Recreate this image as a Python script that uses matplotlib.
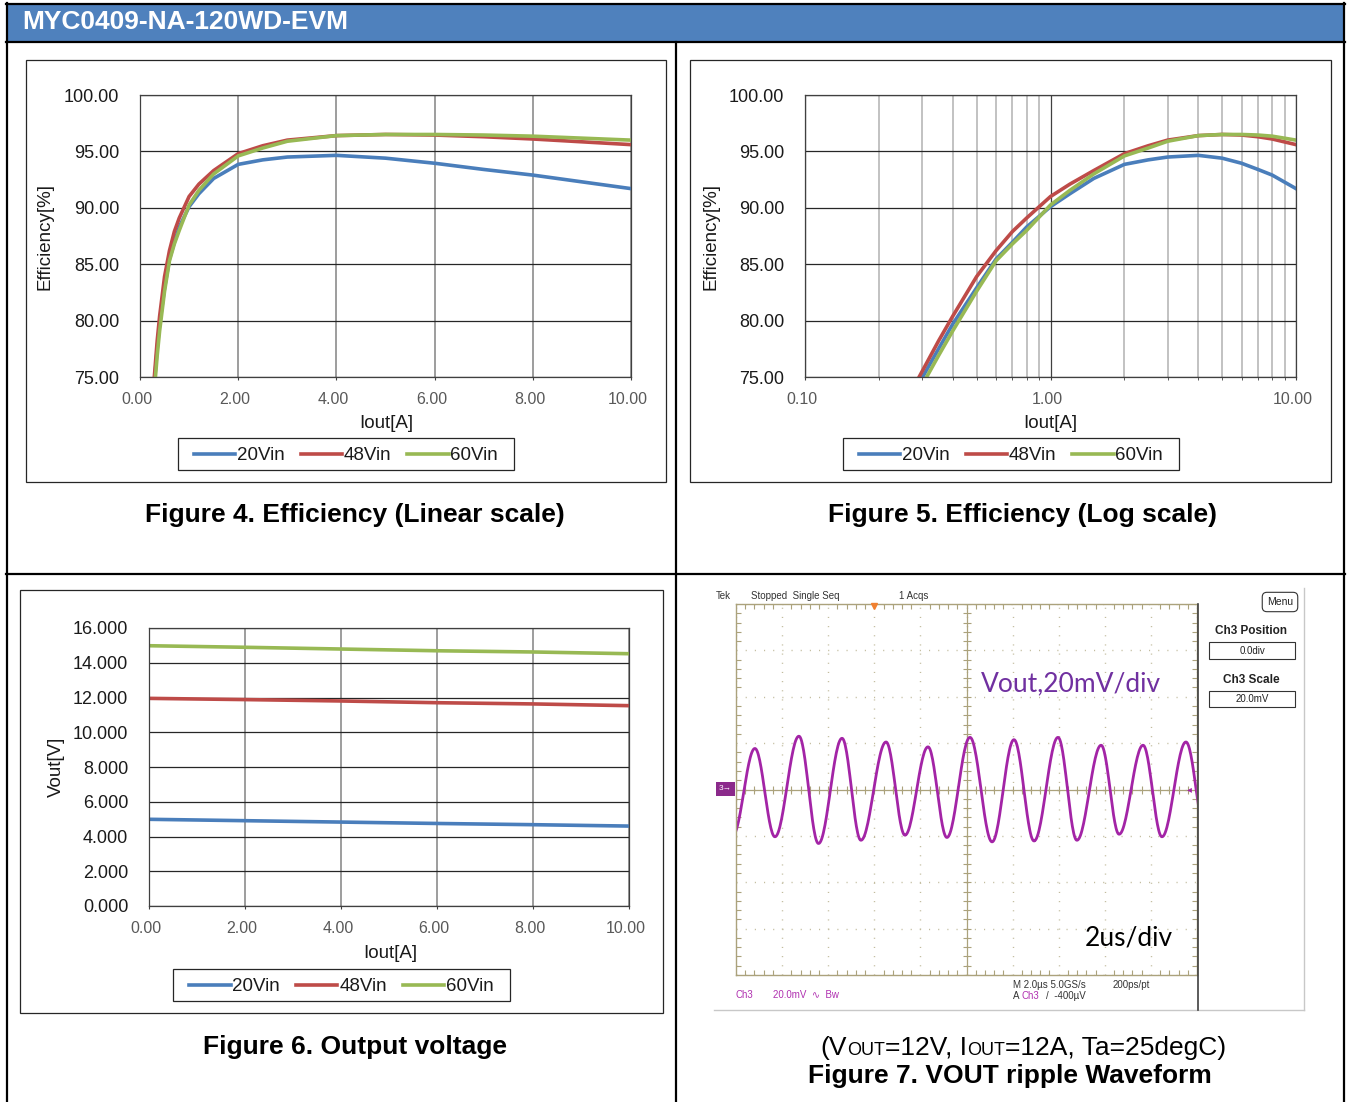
import matplotlib
matplotlib.use('Agg')
import numpy as np
import matplotlib.pyplot as plt
from matplotlib.patches import Rectangle
from matplotlib.lines import Line2D
from matplotlib.transforms import ScaledTranslation
from matplotlib.ticker import FixedLocator, MultipleLocator, FormatStrFormatter, NullFormatter

W, H = 1351, 1102
plt.rcParams['font.family'] = ['Liberation Sans', 'DejaVu Sans']

# efficiency curves (Figure 4 / 5)
iout_eff = [0.29, 0.35, 0.40, 0.50, 0.60, 0.70, 0.80, 1.00, 1.20, 1.50,
            2.00, 2.50, 3.00, 4.00, 5.00, 6.00, 7.00, 8.00, 10.00]
eff_20vin = [74.35, 77.5, 79.7, 82.9, 85.45, 86.95, 88.3, 90.1, 91.25, 92.6,
             93.85, 94.25, 94.5, 94.65, 94.4, 93.95, 93.4, 92.9, 91.7]
eff_48vin = [74.9, 78.2, 80.4, 83.9, 86.2, 87.9, 89.1, 91.0, 92.1, 93.3,
             94.8, 95.5, 96.0, 96.4, 96.5, 96.45, 96.3, 96.1, 95.6]
eff_60vin = [73.7, 76.9, 79.1, 82.6, 85.3, 86.8, 88.0, 90.25, 91.55, 93.0,
             94.6, 95.3, 95.9, 96.4, 96.5, 96.5, 96.45, 96.35, 96.0]

# output voltage (Figure 6)
iout_vout = [0, 2, 4, 6, 8, 10]
vout_20vin = [4.99, 4.91, 4.83, 4.75, 4.68, 4.60]
vout_48vin = [11.95, 11.88, 11.80, 11.70, 11.63, 11.53]
vout_60vin = [14.98, 14.89, 14.79, 14.69, 14.62, 14.52]

# ripple trace extrema (Figure 7), time in us, voltage in mV
ripple_peak_t = [0.82, 2.73, 4.60, 6.51, 8.33, 10.15, 12.06, 13.97, 15.84, 17.66, 19.52]
ripple_peak_mv = [17.7, 23.0, 22.1, 20.5, 18.4, 22.5, 21.5, 22.5, 19.1, 19.1, 20.5]
ripple_trough_t = [-0.15, 1.69, 3.58, 5.42, 7.33, 9.15, 11.11, 12.93, 14.79, 16.62, 18.48, 20.40]
ripple_trough_mv = [-20.0, -20.4, -23.3, -21.9, -19.7, -20.7, -22.6, -22.2, -21.9, -19.3, -20.4, -20.0]

series_names = ['20Vin', '48Vin', '60Vin']
colors = ['#4A7EBB', '#BE4B48', '#98B954']

fig = plt.figure(figsize=(W / 100, H / 100), dpi=100)
fig.patch.set_facecolor('white')


def box(x0, y0, x1, y1):
    return [x0 / W, 1 - y1 / H, (x1 - x0) / W, (y1 - y0) / H]


def fline(xs, ys, **kw):
    fig.add_artist(Line2D([x / W for x in xs], [1 - y / H for y in ys], **kw))


def frect(x0, y0, x1, y1, **kw):
    fig.add_artist(Rectangle((x0 / W, 1 - y1 / H), (x1 - x0) / W, (y1 - y0) / H, **kw))


def ftext(x, y, s, **kw):
    return fig.text(x / W, 1 - y / H, s, **kw)


# ---- table / header
frect(7, 4, 1344, 42, fc='#4F81BD', ec='none')
ftext(22, 22, 'MYC0409-NA-120WD-EVM', color='white', weight='bold', fontsize=19, va='center')
tk = dict(color='black', lw=1.6)
fline([6, 1345], [4, 4], **tk)
fline([6, 1345], [42, 42], **tk)
fline([6, 1345], [574, 574], **tk)
fline([7, 7], [3, 1102], **tk)
fline([1344, 1344], [3, 1102], **tk)
fline([676, 676], [42, 1102], **tk)


def excel_axes(pbox, frame, xlab_xy, ylab_xy, ylab):
    frect(*frame, fill=False, ec='#262626', lw=0.9)
    ax = fig.add_axes(box(*pbox))
    for s in ax.spines.values():
        s.set_color('#404040')
        s.set_linewidth(0.9)
    ax.grid(axis='y', color='#262626', lw=0.9)
    ax.grid(axis='x', color='#8C8C8C', lw=1.2)
    ax.set_axisbelow(True)
    ax.tick_params(axis='y', length=0, pad=15, labelsize=13, labelcolor='#1A1A1A')
    ax.tick_params(axis='x', length=2, direction='out', color='#404040', pad=9,
                   labelsize=11.5, labelcolor='#595959')
    x0, y0, x1, y1 = pbox
    ax.set_xlabel('Iout[A]', fontsize=13.5, color='#1A1A1A')
    ax.xaxis.label.set_va('center')
    ax.xaxis.set_label_coords((xlab_xy[0] - x0) / (x1 - x0), (y1 - xlab_xy[1]) / (y1 - y0))
    ax.set_ylabel(ylab, fontsize=13.5, color='#1A1A1A')
    ax.yaxis.label.set_va('center')
    ax.yaxis.set_label_coords((ylab_xy[0] - x0) / (x1 - x0), (y1 - ylab_xy[1]) / (y1 - y0))
    return ax


def shift_xlabels(ax):
    # Excel puts the category labels a few pixels left of the gridline
    off = ScaledTranslation(-3 / 100, 0, fig.dpi_scale_trans)
    for lab in ax.get_xticklabels():
        lab.set_transform(lab.get_transform() + off)


def add_legend(ax, lbox):
    x0, y0, x1, y1 = lbox
    frect(x0, y0, x1, y1, fill=False, ec='#262626', lw=0.9)
    leg = ax.legend(loc='center', bbox_to_anchor=((x0 + x1) / 2 / W, 1 - ((y0 + y1) / 2 + 1.5) / H),
                    bbox_transform=fig.transFigure, ncol=3, frameon=False,
                    fontsize=13.5, handlelength=2.2, handletextpad=0.1,
                    columnspacing=0.85, borderpad=0.0)
    for t in leg.get_texts():
        t.set_color('#1A1A1A')


# ---- Figure 4: linear scale
ax1 = excel_axes((140, 95, 631, 377), (26, 60, 666, 482), (386, 424), (45, 237), 'Efficiency[%]')
for name, ys, c in zip(series_names, [eff_20vin, eff_48vin, eff_60vin], colors):
    ax1.plot(iout_eff, ys, color=c, lw=2.6, label=name)
ax1.set_xlim(0, 10)
ax1.set_ylim(75, 100)
ax1.xaxis.set_major_locator(MultipleLocator(2))
ax1.yaxis.set_major_locator(MultipleLocator(5))
ax1.xaxis.set_major_formatter(FormatStrFormatter('%.2f'))
ax1.yaxis.set_major_formatter(FormatStrFormatter('%.2f'))
shift_xlabels(ax1)
add_legend(ax1, (178, 438, 514, 470))
ftext(355, 515, 'Figure 4. Efficiency (Linear scale)', ha='center', va='center', fontsize=19, weight='bold')

# ---- Figure 5: log scale
ax2 = excel_axes((805, 95, 1296, 377), (690, 60, 1331, 482), (1050, 424), (711, 237), 'Efficiency[%]')
for name, ys, c in zip(series_names, [eff_20vin, eff_48vin, eff_60vin], colors):
    ax2.plot(iout_eff, ys, color=c, lw=2.6, label=name)
ax2.set_xscale('log')
ax2.set_xlim(0.1, 10)
ax2.set_ylim(75, 100)
ax2.xaxis.set_major_locator(FixedLocator([0.1, 1, 10]))
ax2.xaxis.set_minor_locator(FixedLocator([m * d for d in (0.1, 1) for m in range(2, 10)]))
ax2.xaxis.set_minor_formatter(NullFormatter())
ax2.xaxis.set_major_formatter(FormatStrFormatter('%.2f'))
ax2.yaxis.set_major_locator(MultipleLocator(5))
ax2.yaxis.set_major_formatter(FormatStrFormatter('%.2f'))
ax2.grid(axis='x', which='major', color='#404040', lw=0.9)
ax2.grid(axis='x', which='minor', color='#BDBDBD', lw=1.3)
ax2.tick_params(axis='x', which='minor', length=2, color='#404040')
shift_xlabels(ax2)
add_legend(ax2, (843, 438, 1179, 470))
ftext(1023, 515, 'Figure 5. Efficiency (Log scale)', ha='center', va='center', fontsize=19, weight='bold')

# ---- Figure 6: output voltage
ax3 = excel_axes((149, 628, 629, 906), (20, 590, 663, 1013), (390, 954), (56, 767), 'Vout[V]')
for name, ys, c in zip(series_names, [vout_20vin, vout_48vin, vout_60vin], colors):
    ax3.plot(iout_vout, ys, color=c, lw=2.6, label=name)
ax3.set_xlim(0, 10)
ax3.set_ylim(0, 16)
ax3.xaxis.set_major_locator(MultipleLocator(2))
ax3.yaxis.set_major_locator(MultipleLocator(2))
ax3.xaxis.set_major_formatter(FormatStrFormatter('%.2f'))
ax3.yaxis.set_major_formatter(FormatStrFormatter('%.3f'))
shift_xlabels(ax3)
add_legend(ax3, (173, 969, 510, 1001))
ftext(355, 1047, 'Figure 6. Output voltage', ha='center', va='center', fontsize=19, weight='bold')

# ---- Figure 7: scope screenshot
olive = '#ABA27C'
sax = fig.add_axes(box(736, 604, 1197, 975))
sax.set_xlim(0, 20)
sax.set_ylim(-80, 80)
for s in sax.spines.values():
    s.set_color(olive)
    s.set_linewidth(1.0)
sax.xaxis.set_major_locator(MultipleLocator(2))
sax.yaxis.set_major_locator(MultipleLocator(20))
sax.xaxis.set_minor_locator(MultipleLocator(0.4))
sax.yaxis.set_minor_locator(MultipleLocator(4))
sax.tick_params(which='both', direction='in', top=True, right=True, color=olive,
                labelbottom=False, labelleft=False)
sax.tick_params(which='major', length=0)
sax.tick_params(which='minor', length=3.5, width=0.8)
sax.grid(which='major', color='#C2BC9E', lw=1.0, linestyle=(0, (0.8, 5.8)))
sax.axhline(0, color=olive, lw=0.9)
sax.axvline(10, color=olive, lw=0.9)
sax.plot(np.arange(0, 20.01, 0.4), np.zeros(51), '|', color=olive, ms=6, mew=0.8)
sax.plot(np.full(41, 10.0), np.arange(-80, 80.01, 4), '_', color=olive, ms=6, mew=0.8)

knots = sorted(zip(ripple_peak_t + ripple_trough_t, ripple_peak_mv + ripple_trough_mv))
tt, vv = [], []
for (t0, v0), (t1, v1) in zip(knots[:-1], knots[1:]):
    s = np.linspace(0, 1, 30)
    tt.extend(t0 + (t1 - t0) * s)
    vv.extend(v0 + (v1 - v0) * (1 - np.cos(np.pi * s)) / 2)
sax.plot(tt, vv, color='#A324A6', lw=2.0)

ftext(981, 684, 'Vout,20mV/div', color='#7030A0', fontsize=19, family='Lato', va='center')
ftext(1085, 938, '2us/div', color='black', fontsize=19, family='Lato', va='center')

# scope frame
fline([714, 1304], [1010, 1010], color='#C8C8C8', lw=1.0)
fline([1304, 1304], [588, 1010], color='#C8C8C8', lw=1.0)
fline([1198, 1198], [604, 1010], color='#404040', lw=1.2)

sc = dict(fontsize=7, color='#333333', va='center')
ftext(716, 596, 'Tek', **sc)
ftext(751, 596, 'Stopped  Single Seq', **sc)
ftext(899, 596, '1 Acqs', **sc)
fig.add_artist(Line2D([874 / W], [1 - 606 / H], marker='v', ms=5, color='#F08030', lw=0))

ftext(736, 995, 'Ch3', fontsize=7, color='#B030B0', va='center')
ftext(773, 995, '20.0mV  \u223f  Bw', fontsize=7, color='#B030B0', va='center')
ftext(1013, 985, 'M 2.0\u00b5s 5.0GS/s', **sc)
ftext(1113, 985, '200ps/pt', **sc)
ftext(1013, 996, 'A', **sc)
ftext(1022, 996, 'Ch3', fontsize=7, color='#B030B0', va='center')
ftext(1046, 996, '/  -400\u00b5V', **sc)

frect(716, 782, 735, 796, fc='#8B2A8B', ec='none')
ftext(725.5, 789, '3\u2192', fontsize=6, color='white', ha='center', va='center')
ftext(1189, 789, '\u25c2', fontsize=7, color='#A324A6', ha='center', va='center')

ftext(1280, 602, 'Menu', fontsize=7.5, color='#222222', ha='center', va='center',
      bbox=dict(boxstyle='round,pad=0.45', fc='white', ec='#333333', lw=0.8))
ftext(1251, 631, 'Ch3 Position', fontsize=8.5, weight='bold', color='#222222', ha='center', va='center')
frect(1209, 642, 1295, 659, fill=False, ec='#333333', lw=0.8)
ftext(1252, 650.5, '0.0div', fontsize=7, color='#222222', ha='center', va='center')
ftext(1251, 680, 'Ch3 Scale', fontsize=8.5, weight='bold', color='#222222', ha='center', va='center')
frect(1209, 691, 1295, 707, fill=False, ec='#333333', lw=0.8)
ftext(1252, 699, '20.0mV', fontsize=7, color='#222222', ha='center', va='center')

# caption with small "OUT" letters
pieces = [('(V', 19), ('OUT', 13), ('=12V, I', 19), ('OUT', 13), ('=12A, Ta=25degC)', 19)]
renderer = fig.canvas.get_renderer()
objs = [ftext(0, 1055, s, fontsize=fs, va='baseline') for s, fs in pieces]
widths = [o.get_window_extent(renderer).width for o in objs]
x = 1023.5 - sum(widths) / 2
for o, w in zip(objs, widths):
    o.set_x(x / W)
    x += w
ftext(1010, 1076, 'Figure 7. VOUT ripple Waveform', ha='center', va='center', fontsize=19, weight='bold')

fig.savefig('out.png', dpi=100)
